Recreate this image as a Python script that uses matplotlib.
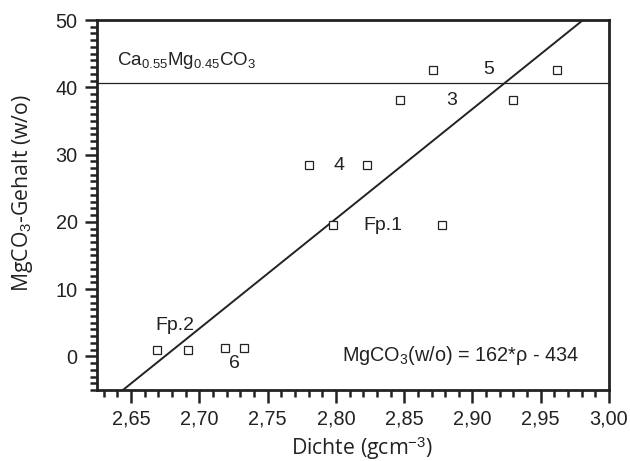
import matplotlib
matplotlib.use("Agg")
import matplotlib.pyplot as plt
from matplotlib.ticker import MultipleLocator, FuncFormatter
import numpy as np

plt.rcParams['font.family'] = ['Liberation Sans', 'DejaVu Sans']
plt.rcParams['mathtext.fontset'] = 'custom'
plt.rcParams['mathtext.rm'] = 'Liberation Sans'
plt.rcParams['mathtext.it'] = 'Liberation Sans'

# data
density = [2.669, 2.692, 2.719, 2.733, 2.780, 2.823, 2.798, 2.878, 2.847, 2.930, 2.871, 2.962]
mgco3 = [1.0, 1.0, 1.3, 1.3, 28.5, 28.5, 19.5, 19.5, 38.1, 38.1, 42.6, 42.6]
sample_labels = ["Fp.2", "6", "4", "Fp.1", "3", "5"]
label_x = [2.6824, 2.7258, 2.802, 2.8345, 2.885, 2.9118]
label_y = [4.6, -1.1, 28.4, 19.4, 38.1, 42.7]
fit_slope = 163.2
fit_intercept = -436.5
dolomite_level = 40.7
x_ticks = [2.65, 2.70, 2.75, 2.80, 2.85, 2.90, 2.95, 3.00]
y_ticks = [0, 10, 20, 30, 40, 50]

fig = plt.figure(figsize=(6.30, 4.61), dpi=100)
ax = fig.add_axes([97/630, 1-390/461, (609-97)/630, (390-20)/461])

ax.set_xlim(2.625, 3.00)
ax.set_ylim(-5, 50)

xs = np.array([2.625, 3.00])
ax.plot(xs, fit_slope*xs + fit_intercept, color='#222222', lw=1.4)
ax.axhline(dolomite_level, color='#222222', lw=0.9)
ax.plot(density, mgco3, linestyle='none', marker='s', markersize=5.5,
        markerfacecolor='white', markeredgecolor='#222222', markeredgewidth=0.9)

for t, x, y in zip(sample_labels, label_x, label_y):
    ax.text(x, y, t, fontsize=14, ha='center', va='center', color='#222222')

ax.text(2.6396, 44.0, r'Ca$_{0.55}$Mg$_{0.45}$CO$_3$', fontsize=13.5, ha='left', va='center', color='#222222')
ax.text(2.891, 0.15, r'MgCO$_3$(w/o) = 162*ρ - 434', fontsize=14.3, ha='center', va='center', color='#222222')

ax.set_xticks(x_ticks)
ax.set_yticks(y_ticks)
ax.xaxis.set_minor_locator(MultipleLocator(0.01))
ax.yaxis.set_minor_locator(MultipleLocator(1))
ax.xaxis.set_major_formatter(FuncFormatter(lambda v, p: f"{v:.2f}".replace('.', ',')))
ax.tick_params(which='major', direction='out', length=9, width=1.8, labelsize=14.3, colors='#222222', pad=5)
ax.tick_params(which='minor', direction='out', length=5, width=1.8, colors='#222222')
for s in ax.spines.values():
    s.set_linewidth(2.0)
    s.set_color('#222222')

lab_font = ['Open Sans', 'DejaVu Sans']
ax.set_xlabel('Dichte (gcm$^{-3}$)', fontsize=15.3, family=lab_font, color='#222222')
ax.set_ylabel('MgCO$_3$-Gehalt (w/o)', fontsize=15.3, family=lab_font, color='#222222')
ax.xaxis.set_label_coords(0.5176, -0.121)
ax.yaxis.set_label_coords(-0.121, 0.532)

fig.savefig('out.png', dpi=100)
